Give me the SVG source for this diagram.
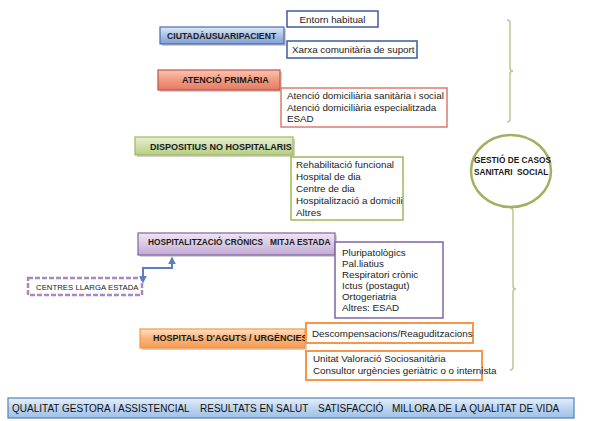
<svg xmlns="http://www.w3.org/2000/svg" width="603" height="421" viewBox="0 0 603 421">
<defs>
<linearGradient id="gBlue" x1="0" y1="0" x2="0" y2="1"><stop offset="0" stop-color="#dfe9f7"/><stop offset="0.5" stop-color="#a9c2e6"/><stop offset="1" stop-color="#7f9fd3"/></linearGradient>
<linearGradient id="gRed" x1="0" y1="0" x2="0" y2="1"><stop offset="0" stop-color="#f9c6b4"/><stop offset="0.5" stop-color="#f29a80"/><stop offset="1" stop-color="#e57a62"/></linearGradient>
<linearGradient id="gGreen" x1="0" y1="0" x2="0" y2="1"><stop offset="0" stop-color="#e8efd4"/><stop offset="0.5" stop-color="#d0dfab"/><stop offset="1" stop-color="#b7cc84"/></linearGradient>
<linearGradient id="gPurple" x1="0" y1="0" x2="0" y2="1"><stop offset="0" stop-color="#efe6f4"/><stop offset="0.5" stop-color="#d9c9e4"/><stop offset="1" stop-color="#c2aad3"/></linearGradient>
<linearGradient id="gOrange" x1="0" y1="0" x2="0" y2="1"><stop offset="0" stop-color="#fde0c4"/><stop offset="0.5" stop-color="#fab47a"/><stop offset="1" stop-color="#f79a4e"/></linearGradient>
<linearGradient id="gBar" x1="0" y1="0" x2="0" y2="1"><stop offset="0" stop-color="#e6effa"/><stop offset="0.5" stop-color="#bcd5f0"/><stop offset="1" stop-color="#9fc0e8"/></linearGradient>
<marker id="arr" viewBox="0 0 10 10" refX="8" refY="5" markerWidth="4" markerHeight="4" orient="auto-start-reverse"><path d="M0,0 L10,5 L0,10 Z" fill="#5b7fc0"/></marker>
</defs>
<style>
.hd{font-family:"Liberation Sans",Arial,sans-serif;font-weight:bold;font-size:9px;fill:#1a1a1a}
.tx{font-family:"Liberation Sans",Arial,sans-serif;font-size:9.8px;fill:#222}
.bar{font-family:"Liberation Sans",Arial,sans-serif;font-size:10px;fill:#111}
.shadow{fill:#9a9a9a;opacity:0.45}
.sub{fill:#fff}
.br{fill:none;stroke:#bcc791;stroke-width:1.5}
</style>
<rect width="603" height="421" fill="#fff"/>

<g id="brackets">
<path class="br" d="M507,20 Q510,20 510,23 L510,68 Q510,71 513,71 Q510,71 510,74 L510,119 Q510,122 507,122"/>
<path class="br" d="M510,208 Q513,208 513,211 L513,286 Q513,289 516,289 Q513,289 513,292 L513,367 Q513,370 510,370"/>
</g>

<g id="ciutada">
<rect class="shadow" x="162" y="29" width="124" height="17"/>
<rect x="160" y="27" width="124" height="17" fill="url(#gBlue)" stroke="#4a6aa8" stroke-width="1.2"/>
<text class="hd" x="167" y="39" style="font-size:8.7px">CIUTADÀUSUARIPACIENT</text>
</g>
<g id="entorn">
<rect class="sub" x="287" y="11" width="91" height="16" stroke="#3d5b9a" stroke-width="1.5"/>
<text class="tx" x="332.5" y="22.5" text-anchor="middle">Entorn habitual</text>
</g>
<g id="xarxa">
<rect class="sub" x="287" y="41" width="130" height="17" stroke="#3d5b9a" stroke-width="1.5"/>
<text class="tx" x="292" y="53">Xarxa comunitària de suport</text>
</g>

<g id="atencio">
<rect class="shadow" x="160" y="72" width="122" height="20"/>
<rect x="158" y="70" width="122" height="20" fill="url(#gRed)" stroke="#c0504d" stroke-width="1.2"/>
<text class="hd" x="182" y="83">ATENCIÓ PRIMÀRIA</text>
</g>
<g id="atencio-sub">
<rect class="sub" x="281" y="88" width="166" height="39" stroke="#e0796e" stroke-width="1.5"/>
<text class="tx" x="287" y="99">Atenció domiciliària sanitària i social</text>
<text class="tx" x="287" y="110.5">Atenció domiciliària especialitzada</text>
<text class="tx" x="287" y="122">ESAD</text>
</g>

<g id="dispositius">
<rect class="shadow" x="137" y="139" width="158" height="18"/>
<rect x="135" y="137" width="158" height="18" fill="url(#gGreen)" stroke="#9bbb59" stroke-width="1.2"/>
<text class="hd" x="150" y="149.5">DISPOSITIUS NO HOSPITALARIS</text>
</g>
<g id="dispositius-sub">
<rect class="sub" x="291" y="157" width="112" height="63" stroke="#9bbb59" stroke-width="1.5"/>
<text class="tx" x="296" y="168">Rehabilitació funcional</text>
<text class="tx" x="296" y="180">Hospital de dia</text>
<text class="tx" x="296" y="192">Centre de dia</text>
<text class="tx" x="296" y="204">Hospitalització a domicili</text>
<text class="tx" x="296" y="215.5">Altres</text>
</g>

<g id="hospitalitzacio">
<rect class="shadow" x="140" y="235" width="197" height="22"/>
<rect x="138" y="233" width="197" height="22" fill="url(#gPurple)" stroke="#8064a2" stroke-width="1.2"/>
<text class="hd" x="148" y="244.5" style="font-size:8.3px">HOSPITALITZACIÓ CRÒNICS</text>
<text class="hd" x="270" y="244.5" style="font-size:8.3px">MITJA ESTADA</text>
</g>
<g id="hospitalitzacio-sub">
<rect class="sub" x="335" y="242" width="108" height="76" stroke="#8064a2" stroke-width="1.5"/>
<text class="tx" x="342" y="256">Pluripatològics</text>
<text class="tx" x="342" y="267">Pal.liatius</text>
<text class="tx" x="342" y="278">Respiratori crònic</text>
<text class="tx" x="342" y="289">Ictus  (postagut)</text>
<text class="tx" x="342" y="300">Ortogeriatria</text>
<text class="tx" x="342" y="311">Altres: ESAD</text>
</g>

<g id="centres">
<rect x="28" y="278" width="114" height="17" fill="#fff" stroke="#a888be" stroke-width="2.5" stroke-dasharray="5,2"/>
<text class="tx" x="36" y="289.5" style="font-size:7.8px">CENTRES LLARGA ESTADA</text>
</g>

<g id="hospitals">
<rect class="shadow" x="142" y="331" width="165" height="19"/>
<rect x="140" y="329" width="165" height="19" fill="url(#gOrange)" stroke="#f79646" stroke-width="1.2"/>
<text class="hd" x="153" y="341">HOSPITALS D'AGUTS / URGÈNCIES</text>
</g>
<g id="descompensacions">
<rect class="sub" x="306" y="323" width="167" height="20" stroke="#f79646" stroke-width="2"/>
<text class="tx" x="312" y="336.5">Descompensacions/Reaguditzacions</text>
</g>
<g id="unitat">
<rect class="sub" x="306" y="351" width="176" height="29" stroke="#f79646" stroke-width="2"/>
<text class="tx" x="313" y="362">Unitat  Valoració Sociosanitària</text>
<text class="tx" x="313" y="373.5">Consultor urgències geriàtric o o internista</text>
</g>

<g id="gestio">
<ellipse cx="511" cy="171" rx="40" ry="36" fill="#fff" stroke="#a3b061" stroke-width="2.5"/>
<text class="hd" x="474" y="163" style="font-size:8.3px">GESTIÓ DE CASOS</text>
<text class="hd" x="474" y="175" style="font-size:8.3px">SANITARI</text>
<text class="hd" x="517" y="175" style="font-size:8.3px">SOCIAL</text>
</g>

<g id="connectors">
<path d="M172,258 L172,268 L143,268 L143,282" fill="none" stroke="#5b7fc0" stroke-width="2" marker-start="url(#arr)" marker-end="url(#arr)"/>
</g>

<g id="qualitat">
<rect x="8" y="398" width="566" height="20" fill="url(#gBar)" stroke="#4f81bd" stroke-width="1.2"/>
<text class="bar" x="12" y="412">QUALITAT GESTORA I ASSISTENCIAL</text>
<text class="bar" x="200" y="412">RESULTATS EN SALUT</text>
<text class="bar" x="318" y="412">SATISFACCIÓ</text>
<text class="bar" x="392" y="412">MILLORA DE LA QUALITAT DE VIDA</text>
</g>
</svg>
